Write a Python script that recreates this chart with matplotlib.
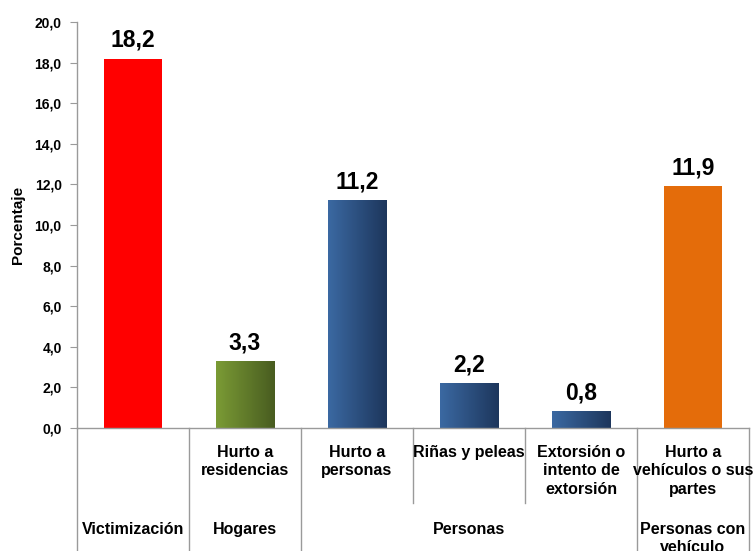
import matplotlib
matplotlib.use("Agg")
import matplotlib.pyplot as plt
import numpy as np
from matplotlib.colors import LinearSegmentedColormap
import matplotlib.transforms as mtransforms

plt.rcParams['font.family'] = ['Liberation Sans', 'DejaVu Sans']
plt.rcParams['font.weight'] = 'bold'

# Data
sub_labels = ["", "Hurto a\nresidencias", "Hurto a\npersonas", "Riñas y peleas",
              "Extorsión o\nintento de\nextorsión", "Hurto a\nvehículos o sus\npartes"]
values = [18.2, 3.3, 11.2, 2.2, 0.8, 11.9]
groups = ["Victimización", "Hogares", "Personas", "Personas con\nvehículo"]
group_spans = [(0, 0), (1, 1), (2, 4), (5, 5)]
yticks = [0, 2, 4, 6, 8, 10, 12, 14, 16, 18, 20]

# styles
fills = ["#ff0000", ("#7b9b35", "#485c20"), ("#3b69a2", "#1d365c"),
         ("#3b69a2", "#1d365c"), ("#3b69a2", "#1d365c"), "#e46c0a"]

fig = plt.figure(figsize=(7.56, 5.51), dpi=100)
ax = fig.add_axes([77/756, 1-428/551, 672/756, 406/551])

x = np.arange(len(values))
w = 0.52
bars = ax.bar(x, values, width=w, zorder=2)
grad = np.linspace(0, 1, 256).reshape(1, -1)
for b, f in zip(bars, fills):
    if isinstance(f, tuple):
        b.set_facecolor('none')
        b.set_edgecolor('none')
        cmap = LinearSegmentedColormap.from_list('g', list(f))
        ax.imshow(grad, cmap=cmap, aspect='auto', zorder=2,
                  extent=(b.get_x(), b.get_x()+b.get_width(), 0, b.get_height()))
    else:
        b.set_facecolor(f)
        b.set_edgecolor('none')

ax.set_xlim(-0.5, len(values)-0.5)
ax.set_ylim(0, 20)
ax.set_yticks(yticks)
ax.set_yticklabels([f"{v:.1f}".replace('.', ',') for v in yticks], fontsize=10, fontweight='bold')
ax.set_xticks([])
for s in ['top', 'right']:
    ax.spines[s].set_visible(False)
for s in ['left', 'bottom']:
    ax.spines[s].set_color('#9a9a9a')
    ax.spines[s].set_linewidth(1.0)
ax.tick_params(axis='y', direction='out', length=5, color='#9a9a9a', pad=6)
ax.set_ylabel("Porcentaje", fontsize=11, fontweight='bold')
ax.yaxis.set_label_coords(-0.077, 0.5)

for xi, v in zip(x, values):
    ax.annotate(f"{v:.1f}".replace('.', ','), (xi, v), xytext=(0, 5),
                textcoords='offset points', ha='center', va='bottom',
                fontsize=16.5, fontweight='bold', zorder=3)

trans = mtransforms.blended_transform_factory(ax.transData, ax.transAxes)
# spine extension below
ax.plot([-0.5, -0.5], [0, -0.31], transform=trans, color='#9a9a9a', lw=1.0, clip_on=False)
full = {0.5, 1.5, 4.5, 5.5}
for b in [0.5, 1.5, 2.5, 3.5, 4.5, 5.5]:
    y1 = -0.31 if b in full else -0.185
    ax.plot([b, b], [0, y1], transform=trans, color='#9a9a9a', lw=1.0, clip_on=False)

for xi, lab in zip(x, sub_labels):
    if lab:
        ax.text(xi, -0.042, lab, transform=trans, ha='center', va='top',
                fontsize=11.5, fontweight='bold', linespacing=1.27)

for g, (a, b) in zip(groups, group_spans):
    ax.text((a+b)/2, -0.232, g, transform=trans, ha='center', va='top',
            fontsize=11.5, fontweight='bold', linespacing=1.27)

fig.savefig("out.png", dpi=100)
